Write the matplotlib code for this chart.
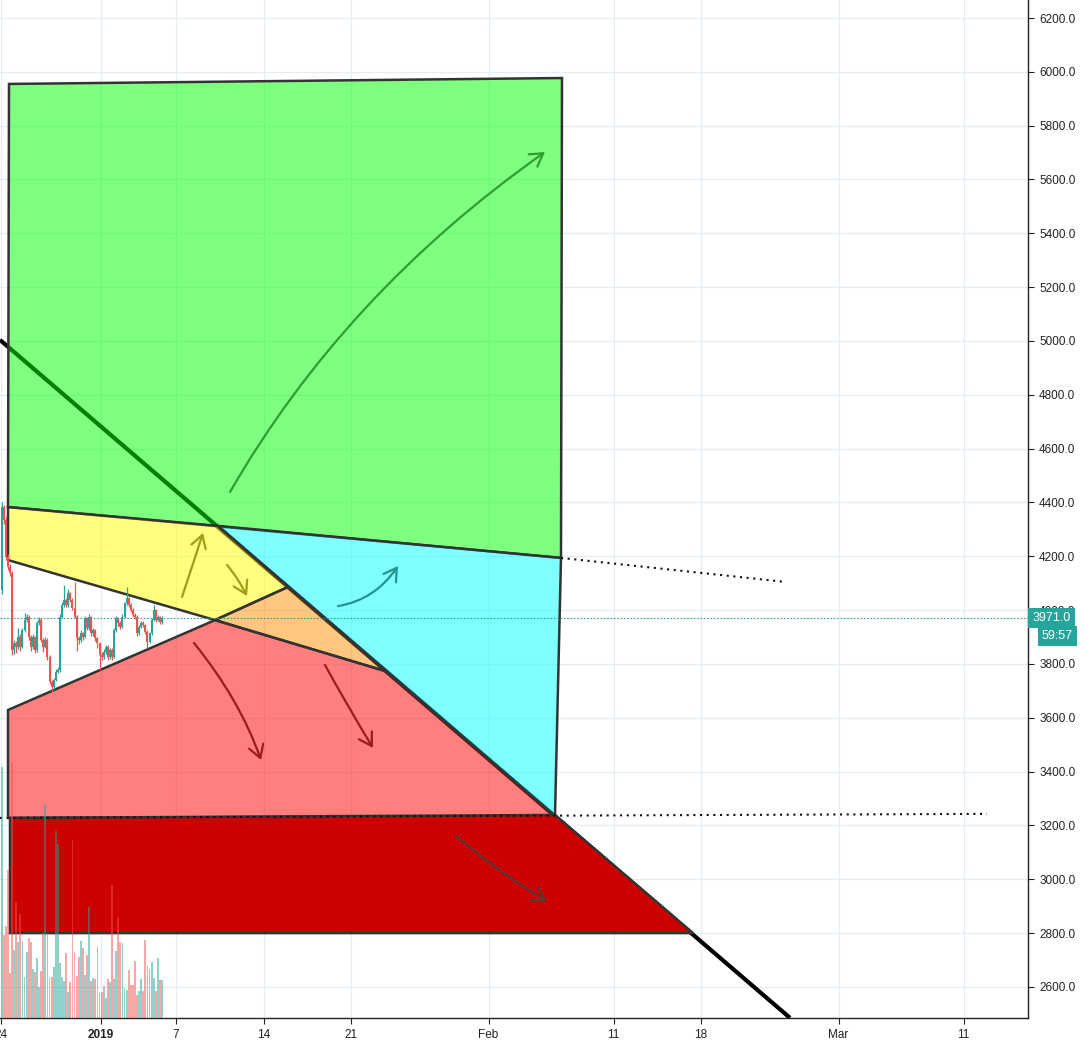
import matplotlib
matplotlib.use("Agg")
import matplotlib.pyplot as plt
import numpy as np
import matplotlib.transforms as mtransforms
from matplotlib.patches import Polygon, FancyArrowPatch
from matplotlib.path import Path

plt.rcParams['font.family'] = ['Liberation Sans', 'DejaVu Sans']

# x is days from 2019-01-01, 4h candles starting Dec 24
FIRST_OPEN = 4075
closes = [4384, 4335, 4198, 4161, 4137, 3852, 3877, 3864, 3901, 3864,
          3926, 3963, 3976, 3901, 3864, 3901, 3852, 3951, 3963, 3889,
          3864, 3889, 3827, 3734, 3715, 3740, 3771, 3777, 3976, 4019,
          4037, 4019, 4062, 4037, 4007, 3976, 3895, 3889, 3914, 3901,
          3969, 3932, 3976, 3914, 3926, 3895, 3877, 3833, 3827, 3846,
          3864, 3827, 3852, 3827, 3926, 3969, 3951, 3938, 3976, 4025,
          4044, 4019, 4000, 3982, 3976, 3914, 3938, 3951, 3945, 3920,
          3883, 3914, 3963, 4000, 3963, 3976, 3957, 3971]
highs = [4400, 4392, 4345, 4210, 4170, 4145, 3890, 3885, 3935, 3910,
         3935, 3990, 3985, 3982, 3908, 3910, 3905, 3960, 3975, 3970,
         3895, 3900, 3895, 3832, 3740, 3748, 3780, 3790, 3985, 4030,
         4093, 4045, 4080, 4068, 4045, 4105, 3982, 3905, 3925, 3920,
         3980, 3975, 3985, 3980, 3935, 3930, 3900, 3882, 3845, 3855,
         3870, 3870, 3860, 3858, 3935, 3978, 3975, 3958, 3985, 4032,
         4087, 4050, 4025, 4008, 3990, 3982, 3945, 3958, 3960, 3950,
         3925, 3920, 3970, 4019, 4005, 3982, 3980, 3978]
lows = [4060, 4320, 4185, 4150, 4125, 3835, 3838, 3840, 3855, 3850,
        3858, 3920, 3955, 3890, 3850, 3855, 3840, 3845, 3945, 3880,
        3845, 3858, 3815, 3725, 3697, 3708, 3735, 3765, 3770, 3970,
        4010, 4010, 4012, 4030, 4000, 3970, 3850, 3875, 3880, 3890,
        3895, 3925, 3928, 3905, 3905, 3885, 3860, 3777, 3815, 3820,
        3838, 3815, 3820, 3815, 3822, 3920, 3940, 3930, 3932, 3970,
        4018, 4010, 3992, 3975, 3968, 3905, 3908, 3932, 3938, 3912,
        3858, 3878, 3908, 3958, 3955, 3958, 3950, 3950]
volumes = [251, 83, 92, 148, 45, 255, 68, 116, 76, 104,
           77, 41, 66, 80, 76, 49, 46, 60, 31, 47,
           85, 214, 85, 40, 41, 51, 187, 174, 55, 41,
           37, 65, 26, 36, 178, 65, 42, 61, 77, 70,
           43, 63, 111, 37, 40, 39, 71, 25, 26, 32,
           20, 39, 36, 133, 39, 67, 101, 76, 75, 30,
           28, 48, 33, 33, 57, 23, 27, 39, 27, 78,
           52, 49, 56, 40, 27, 60, 38, 38]
START_DAY = -7.95
CURRENT_PRICE = 3971.0
COUNTDOWN = "59:57"

tick_days = [-8, 0, 6, 13, 20, 31, 41, 48, 59, 69]
tick_labels = ['24', '2019', '7', '14', '21', 'Feb', '11', '18', 'Mar', '11']
price_ticks = np.arange(2600, 6201, 200)

# drawing objects (day, price)
trend_line = [(-8.08, 5004), (55.12, 2485)]
green_box = [(-7.36, 5955), (36.88, 5977), (36.8, 4194), (-7.44, 4383)]
yellow_zone = [(-7.44, 4383), (9.36, 4313), (14.96, 4086), (9.12, 3963), (-7.44, 4186)]
orange_zone = [(9.12, 3963), (14.96, 4086), (22.72, 3774)]
red_zone = [(-7.44, 3629), (9.12, 3963), (22.72, 3774), (36.32, 3235), (-7.44, 3228)]
cyan_zone = [(9.36, 4313), (36.8, 4194), (36.32, 3235)]
darkred_zone = [(-7.28, 3228), (36.32, 3239), (47.36, 2800), (-7.28, 2800)]
green_ext = [(36.8, 4194), (54.72, 4105)]
support_line = [(-8.08, 3228), (70.88, 3243)]

arrows = [
    ([(10.32, 4439), (19.44, 5175), (35.52, 5702)], '#2e9e2e'),
    ([(6.48, 4049), (7.6, 4205), (8.16, 4287)], '#9e9e1a'),
    ([(10.08, 4168), (10.96, 4119), (11.68, 4052)], '#9e9e1a'),
    ([(18.96, 4015), (21.92, 4038), (23.76, 4164)], '#20958f'),
    ([(7.44, 3878), (11.12, 3666), (12.8, 3443)], '#9b1c1c'),
    ([(17.92, 3796), (19.68, 3647), (21.76, 3488)], '#9b1c1c'),
    ([(28.4, 3161), (31.76, 3027), (35.68, 2919)], '#553a36'),
]

UP = '#26a69a'
DOWN = '#ef5350'

fig = plt.figure(figsize=(10.86, 10.43), dpi=100)
rect = [0, 25 / 1043, 1028 / 1086, 1018 / 1043]
ax = fig.add_axes(rect)
ax.set_xlim(-8.08, 74.16)
ax.set_ylim(2484.6, 6266.9)

ax.grid(True, color='#e3edf3', lw=0.9)
ax.set_axisbelow(True)

tx, ty = zip(*trend_line)
ax.plot(tx, ty, color='black', lw=3, zorder=1, solid_capstyle='butt')

zones = [
    (green_box, (0, 1, 0, 0.5)),
    (yellow_zone, (1, 1, 0, 0.5)),
    (orange_zone, (1, 0.57, 0, 0.5)),
    (red_zone, (1, 0, 0, 0.5)),
    (cyan_zone, (0, 1, 1, 0.5)),
    (darkred_zone, '#cc0000'),
]
for verts, fc in zones:
    ax.add_patch(Polygon(verts, closed=True, facecolor=fc, edgecolor='#333333',
                         lw=1.8, joinstyle='miter', zorder=2))

for pts in (green_ext, support_line):
    px, py = zip(*pts)
    ax.plot(px, py, color='#111111', lw=1.5, ls=(0, (1, 2.2)), zorder=3)

for pts, col in arrows:
    path = Path(pts, [Path.MOVETO, Path.CURVE3, Path.CURVE3])
    ax.add_patch(FancyArrowPatch(path=path, arrowstyle='->,head_length=0.75,head_width=0.45',
                                 mutation_scale=12, color=col, lw=1.6,
                                 shrinkA=0, shrinkB=0, zorder=4))

# candles
opens = [FIRST_OPEN] + closes[:-1]
days = START_DAY + np.arange(len(closes)) / 6
cols = [UP if c >= o else DOWN for o, c in zip(opens, closes)]
ax.vlines(days, lows, highs, colors=cols, lw=0.9, zorder=5)
bottoms = [min(o, c) for o, c in zip(opens, closes)]
heights = [max(abs(c - o), 4) for o, c in zip(opens, closes)]
ax.bar(days, heights, bottom=bottoms, width=0.16, color=cols, lw=0, zorder=5)

ax.axhline(CURRENT_PRICE, color='#3a9b94', lw=0.8, ls=(0, (1.5, 1.5)), zorder=6)

ax.yaxis.tick_right()
ax.set_yticks(price_ticks)
ax.set_yticklabels([f'{p:.1f}' for p in price_ticks])
ax.set_xticks(tick_days)
ax.set_xticklabels(tick_labels)
ax.get_xticklabels()[1].set_fontweight('bold')
ax.tick_params(axis='both', labelsize=8.5, colors='#222222', length=4, width=0.8)
ax.tick_params(axis='y', pad=4)
ax.tick_params(axis='x', pad=4)
for side in ('left', 'top'):
    ax.spines[side].set_visible(False)
for side in ('right', 'bottom'):
    ax.spines[side].set_color('#222222')
    ax.spines[side].set_linewidth(1.0)

trans = mtransforms.blended_transform_factory(ax.transAxes, ax.transData)
ax.annotate(f'{CURRENT_PRICE:.1f}', xy=(1.0, CURRENT_PRICE), xycoords=trans,
            xytext=(3, 0), textcoords='offset points', ha='left', va='center',
            fontsize=9, color='white', annotation_clip=False, zorder=10,
            bbox=dict(boxstyle='square,pad=0.35', fc=UP, ec='none'))
ax.annotate(COUNTDOWN, xy=(1.0, CURRENT_PRICE), xycoords=trans,
            xytext=(10, -13), textcoords='offset points', ha='left', va='center',
            fontsize=9, color='white', annotation_clip=False, zorder=10,
            bbox=dict(boxstyle='square,pad=0.35', fc=UP, ec='none'))

# volume overlay
axv = fig.add_axes(rect, sharex=ax)
axv.set_ylim(0, 1018)
axv.axis('off')
axv.patch.set_alpha(0)
axv.bar(days, volumes, width=0.15, color=cols, lw=0, alpha=0.5)

fig.savefig('out.png', dpi=100)
